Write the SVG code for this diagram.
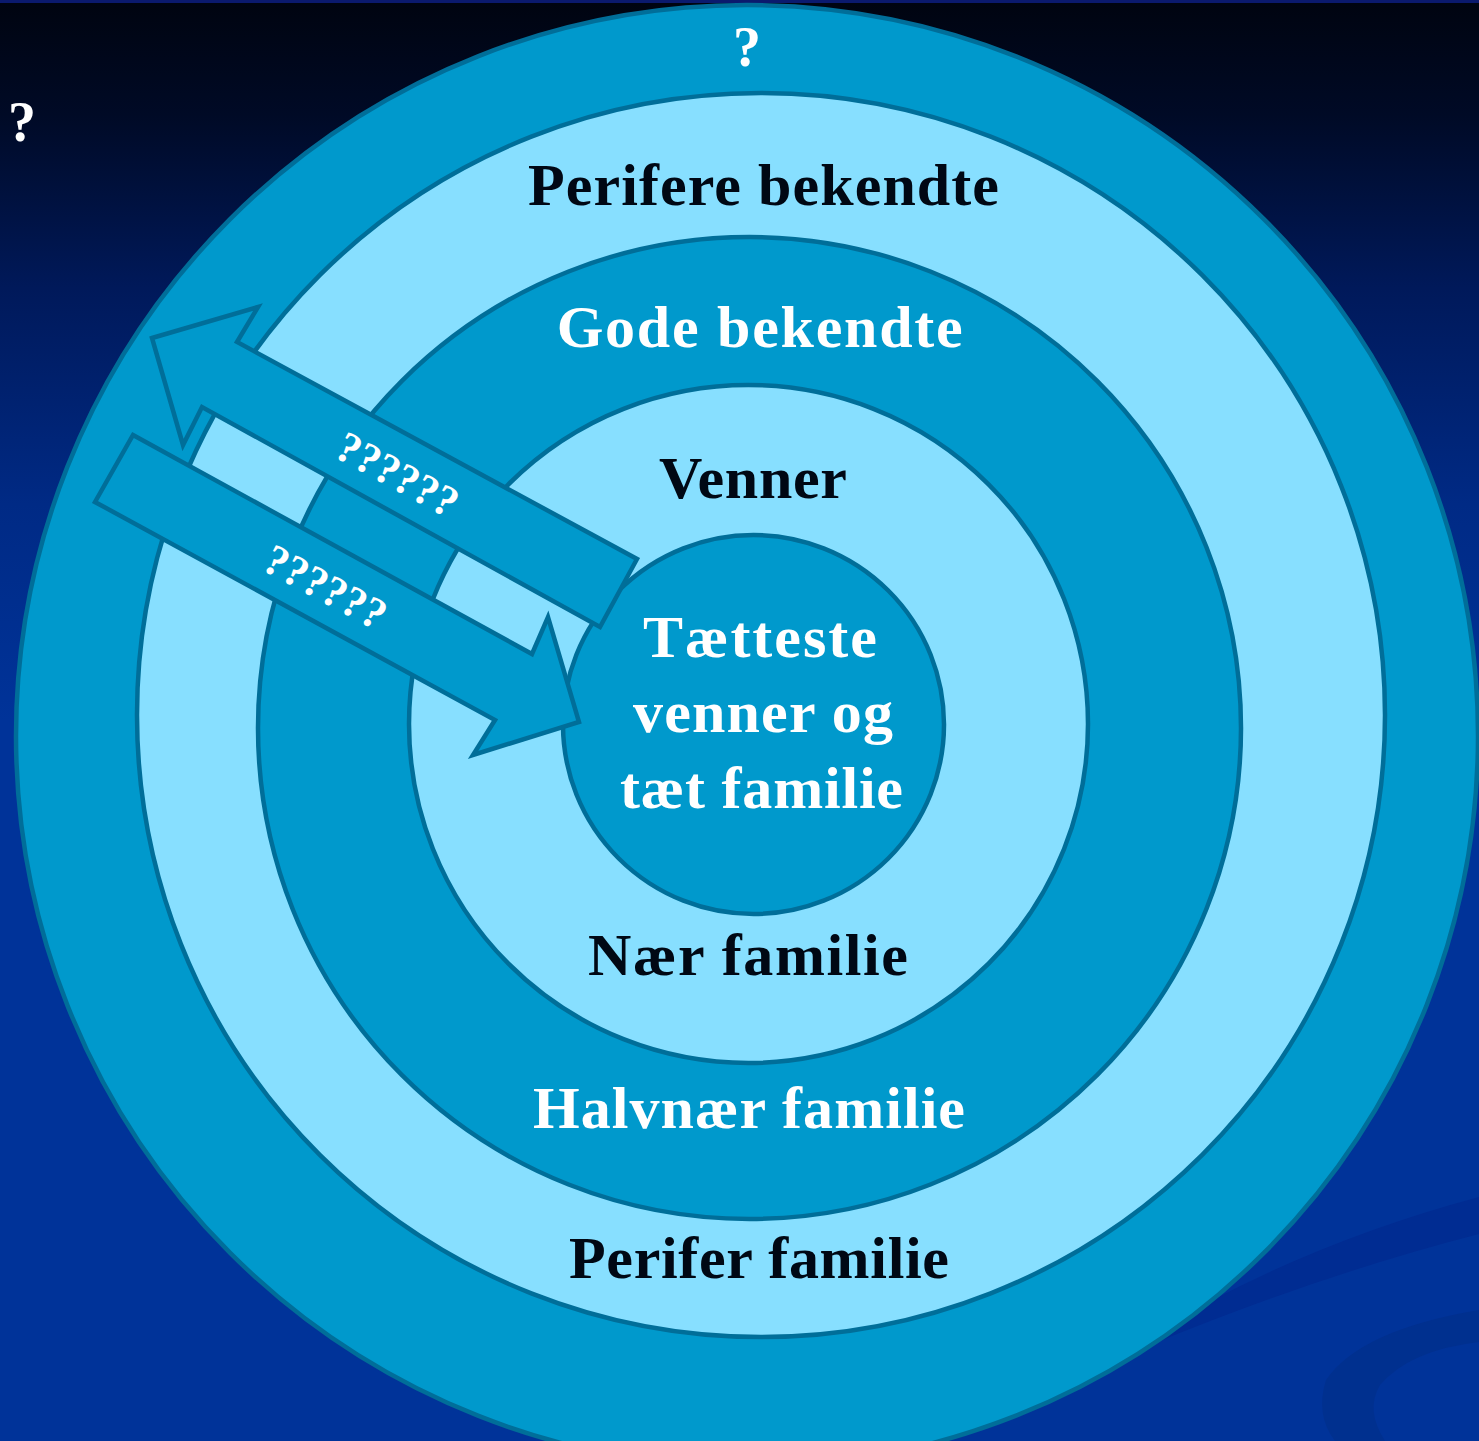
<svg xmlns="http://www.w3.org/2000/svg" width="1479" height="1441" viewBox="0 0 1479 1441">
  <defs>
    <linearGradient id="bg" x1="0" y1="0" x2="0" y2="1">
      <stop offset="0" stop-color="#000410"/>
      <stop offset="0.08" stop-color="#000a26"/>
      <stop offset="0.2" stop-color="#00195a"/>
      <stop offset="0.35" stop-color="#002a85"/>
      <stop offset="0.5" stop-color="#003399"/>
      <stop offset="1" stop-color="#003399"/>
    </linearGradient>
    <style>
      .dark { fill: #0099CC; stroke: #006E99; stroke-width: 4.5; }
      .light { fill: #87DFFF; stroke: #006E99; stroke-width: 4.5; }
      .arrow { fill: #0099CC; stroke: #006E99; stroke-width: 4.5; stroke-linejoin: miter; }
      .lbl { font-family: "Liberation Serif", "Times New Roman", serif; font-weight: bold; font-size: 60px; text-anchor: middle; }
      .blk { fill: #000814; }
      .wht { fill: #FFFFFF; }
      .q { font-family: "Liberation Serif", "Times New Roman", serif; font-weight: bold; fill: #FFFFFF; text-anchor: middle; }
    </style>
  </defs>

  <g id="background">
    <rect x="0" y="0" width="1479" height="1441" fill="url(#bg)"/>
    <rect x="0" y="0" width="1479" height="3" fill="#0b1a6e"/>
    <path d="M 1150 1335 Q 1300 1245 1479 1197 L 1479 1234 Q 1320 1275 1150 1345 Z" fill="#002c92"/>
    <path d="M 1479 1310 Q 1360 1330 1326 1380 Q 1315 1415 1335 1441 L 1385 1441 Q 1365 1410 1380 1385 Q 1410 1350 1479 1342 Z" fill="#00308f"/>
  </g>

  <g id="ring-outer">
    <ellipse class="dark" cx="747" cy="736" rx="731" ry="731"/>
  </g>
  <g id="ring-perifere">
    <ellipse class="light" cx="761" cy="715" rx="624" ry="622"/>
  </g>
  <g id="ring-gode">
    <ellipse class="dark" cx="749.5" cy="728" rx="491.5" ry="491"/>
  </g>
  <g id="ring-venner">
    <ellipse class="light" cx="748.5" cy="724" rx="339.5" ry="339"/>
  </g>
  <g id="ring-inner">
    <ellipse class="dark" cx="753.5" cy="724.5" rx="190.5" ry="189.5"/>
  </g>

  <g id="labels">
    <text class="q" x="747" y="66" font-size="56">?</text>
    <text class="q" x="22" y="141" font-size="56">?</text>
    <text class="lbl blk" x="763.5" y="205" textLength="471">Perifere bekendte</text>
    <text class="lbl wht" x="759.7" y="347" textLength="406">Gode bekendte</text>
    <text class="lbl blk" x="753" y="498" textLength="188">Venner</text>
    <text class="lbl wht" x="760" y="657" textLength="234">Tætteste</text>
    <text class="lbl wht" x="763" y="732" textLength="260">venner og</text>
    <text class="lbl wht" x="761.5" y="808" textLength="283">tæt familie</text>
    <text class="lbl blk" x="748" y="975" textLength="320">Nær familie</text>
    <text class="lbl wht" x="749" y="1128" textLength="432">Halvnær familie</text>
    <text class="lbl blk" x="759" y="1278" textLength="380">Perifer familie</text>
  </g>

  <g id="connectors">
    <g id="arrow-out">
      <polygon class="arrow" points="152,338 258,307 237,342 637,559 600,627 202,407 183,445"/>
      <text class="q" font-size="44" transform="translate(390.6,487.6) rotate(28.5)" x="0" y="0">??????</text>
    </g>
    <g id="arrow-in">
      <polygon class="arrow" points="133,435 532,654 548,617 579,722 473,755 495,720 95,502"/>
      <text class="q" font-size="44" transform="translate(318.6,600) rotate(28)" x="0" y="0">??????</text>
    </g>
  </g>
</svg>
